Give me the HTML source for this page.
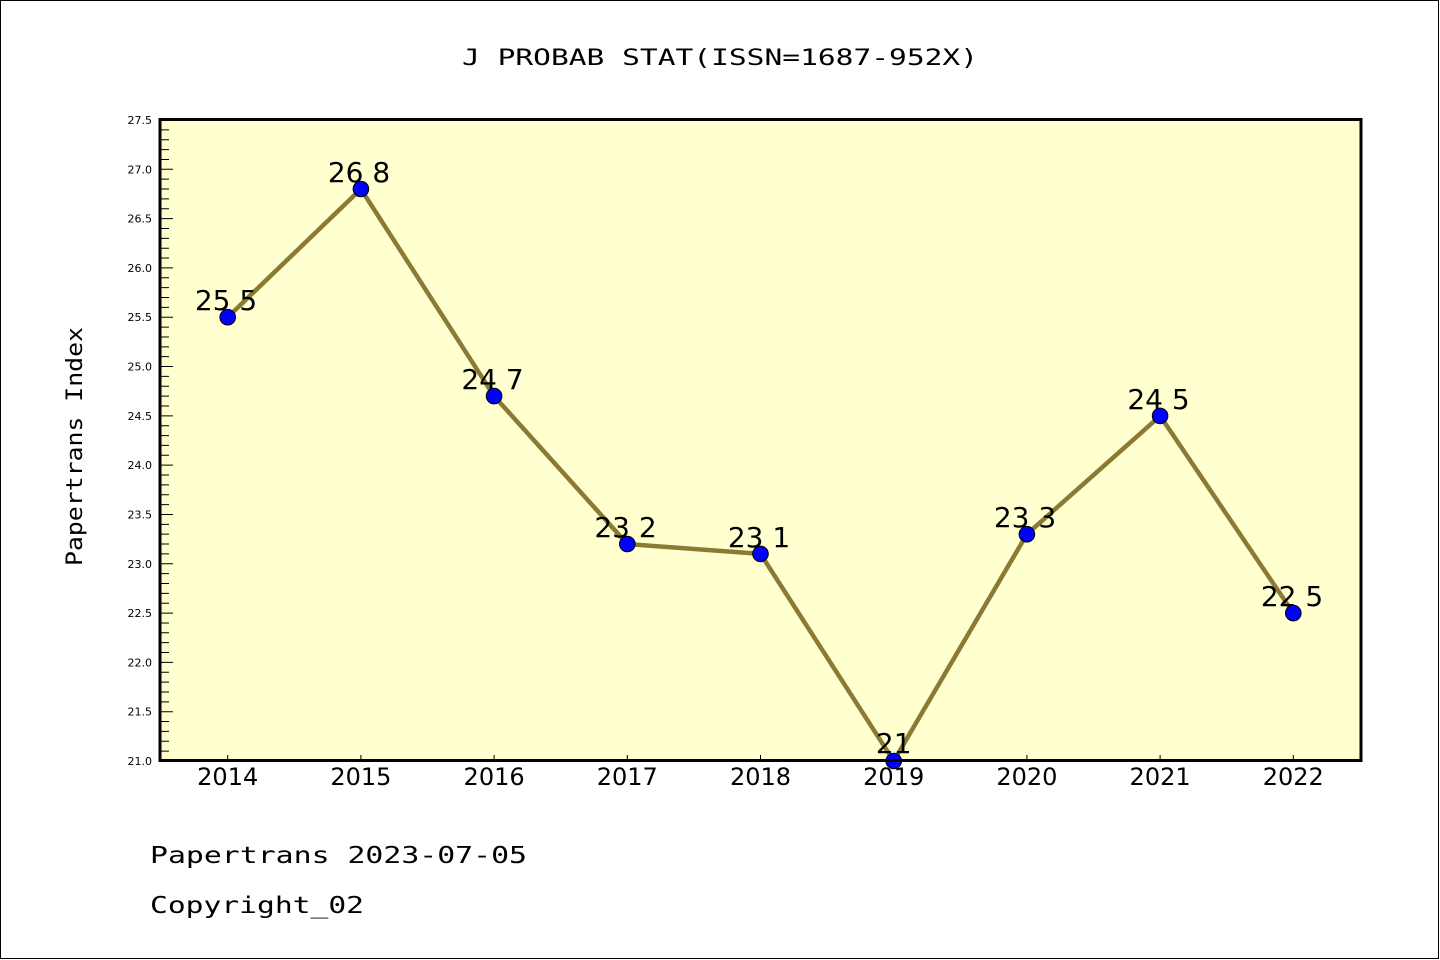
<!DOCTYPE html>
<html><head><meta charset="utf-8"><style>
html,body{margin:0;padding:0;background:#fff;}
svg{display:block;}
</style></head><body>
<svg width="1440" height="960" viewBox="0 0 1440 960" xmlns="http://www.w3.org/2000/svg">
<rect x="0" y="0" width="1440" height="960" fill="#fff"/>
<rect x="0.5" y="0.5" width="1438" height="958" fill="none" stroke="#000" stroke-width="1"/>
<text x="462" y="65" font-family="DejaVu Sans Mono, monospace" font-size="22.5" textLength="516" lengthAdjust="spacingAndGlyphs" fill="#000">J PROBAB STAT(ISSN=1687-952X)</text>
<rect x="160" y="119.5" width="1201" height="641" fill="#ffffd0"/>
<path stroke="#000" stroke-width="1" fill="none" d="M161 129.86h8M161 139.72h8M161 149.58h8M161 159.45h8M161 179.17h8M161 189.03h8M161 198.89h8M161 208.75h8M161 228.48h8M161 238.34h8M161 248.2h8M161 258.06h8M161 277.78h8M161 287.65h8M161 297.51h8M161 307.37h8M161 327.09h8M161 336.95h8M161 346.82h8M161 356.68h8M161 376.4h8M161 386.26h8M161 396.12h8M161 405.98h8M161 425.71h8M161 435.57h8M161 445.43h8M161 455.29h8M161 475.02h8M161 484.88h8M161 494.74h8M161 504.6h8M161 524.32h8M161 534.18h8M161 544.05h8M161 553.91h8M161 573.63h8M161 583.49h8M161 593.35h8M161 603.22h8M161 622.94h8M161 632.8h8M161 642.66h8M161 652.52h8M161 672.25h8M161 682.11h8M161 691.97h8M161 701.83h8M161 721.55h8M161 731.42h8M161 741.28h8M161 751.14h8"/>
<path stroke="#000" stroke-width="1" fill="none" d="M161 169.31h12M161 218.62h12M161 267.92h12M161 317.23h12M161 366.54h12M161 415.85h12M161 465.15h12M161 514.46h12M161 563.77h12M161 613.08h12M161 662.38h12M161 711.69h12"/>
<path stroke="#000" stroke-width="1" fill="none" d="M227.7 760v-5M360.9 760v-5M494.1 760v-5M627.3 760v-5M760.5 760v-5M893.7 760v-5M1026.9 760v-5M1160.1 760v-5M1293.3 760v-5"/>
<g font-family="DejaVu Sans, sans-serif" font-size="11" text-anchor="end" fill="#000">
<text x="152" y="124">27.5</text>
<text x="152" y="173.3">27.0</text>
<text x="152" y="222.6">26.5</text>
<text x="152" y="271.9">26.0</text>
<text x="152" y="321.2">25.5</text>
<text x="152" y="370.5">25.0</text>
<text x="152" y="419.8">24.5</text>
<text x="152" y="469.2">24.0</text>
<text x="152" y="518.5">23.5</text>
<text x="152" y="567.8">23.0</text>
<text x="152" y="617.1">22.5</text>
<text x="152" y="666.4">22.0</text>
<text x="152" y="715.7">21.5</text>
<text x="152" y="765">21.0</text>
</g>
<g font-family="DejaVu Sans, sans-serif" font-size="24" text-anchor="middle" fill="#000">
<text x="227.7" y="785">2014</text>
<text x="360.9" y="785">2015</text>
<text x="494.1" y="785">2016</text>
<text x="627.3" y="785">2017</text>
<text x="760.5" y="785">2018</text>
<text x="893.7" y="785">2019</text>
<text x="1026.9" y="785">2020</text>
<text x="1160.1" y="785">2021</text>
<text x="1293.3" y="785">2022</text>
</g>
<polyline points="227.7,317.2 360.9,189 494.1,396.1 627.3,544 760.5,553.9 893.7,761 1026.9,534.2 1160.1,415.9 1293.3,613.1" fill="none" stroke="#8b7a34" stroke-width="4.5" stroke-linejoin="round"/>
<g font-family="DejaVu Sans, sans-serif" font-size="28" text-anchor="middle" fill="#000">
<text x="226" y="310">25 5</text>
<text x="359" y="182">26 8</text>
<text x="492.5" y="389">24 7</text>
<text x="625.5" y="537">23 2</text>
<text x="759" y="547">23 1</text>
<text x="893.7" y="753">21</text>
<text x="1025" y="527">23 3</text>
<text x="1158.5" y="409">24 5</text>
<text x="1292" y="606">22 5</text>
</g>
<g fill="#0000ff" stroke="#000" stroke-width="1">
<circle cx="227.7" cy="317.2" r="7.8"/>
<circle cx="360.9" cy="189" r="7.8"/>
<circle cx="494.1" cy="396.1" r="7.8"/>
<circle cx="627.3" cy="544" r="7.8"/>
<circle cx="760.5" cy="553.9" r="7.8"/>
<circle cx="893.7" cy="761" r="7.8"/>
<circle cx="1026.9" cy="534.2" r="7.8"/>
<circle cx="1160.1" cy="415.9" r="7.8"/>
<circle cx="1293.3" cy="613.1" r="7.8"/>
</g>
<rect x="160" y="119.5" width="1201" height="641" fill="none" stroke="#000" stroke-width="3"/>
<text transform="translate(82,566) rotate(-90)" font-family="DejaVu Sans Mono, monospace" font-size="22" textLength="239" lengthAdjust="spacingAndGlyphs" fill="#000">Papertrans Index</text>
<text x="150" y="863" font-family="DejaVu Sans Mono, monospace" font-size="23.5" textLength="377" lengthAdjust="spacingAndGlyphs" fill="#000">Papertrans 2023-07-05</text>
<text x="150" y="913" font-family="DejaVu Sans Mono, monospace" font-size="23.5" textLength="214" lengthAdjust="spacingAndGlyphs" fill="#000">Copyright_02</text>
</svg>
</body></html>
